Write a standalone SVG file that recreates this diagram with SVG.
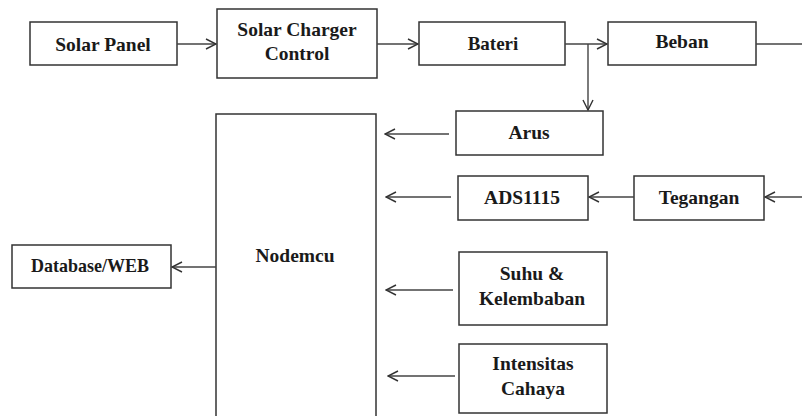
<svg xmlns="http://www.w3.org/2000/svg" width="802" height="416" viewBox="0 0 802 416">
<defs>
<marker id="arr" viewBox="0 0 12 12" refX="11" refY="6" markerWidth="12" markerHeight="12" markerUnits="userSpaceOnUse" orient="auto">
<path d="M1,1 L11,6 L1,11" fill="none" stroke="#333" stroke-width="1.4"/>
</marker>
<style>
.box{fill:#fff;stroke:#333;stroke-width:1.5}
.t{fill:#1a1a1a;text-anchor:middle}
.c{fill:none;stroke:#444;stroke-width:1.4}
</style>
</defs>
<rect width="802" height="416" fill="#fff"/>
<g id="nodes" font-family="Liberation Serif, Times New Roman, serif" font-weight="bold" font-size="19.5">
<g id="solar-panel"><rect class="box" x="30" y="22" width="147" height="43"/><text class="t" x="103" y="51" font-family="Liberation Serif, serif" font-weight="bold" font-size="19.5">Solar Panel</text></g>
<g id="scc"><rect class="box" x="217" y="9" width="160" height="69"/><text class="t" x="297" y="36" font-family="Liberation Serif, serif" font-weight="bold" font-size="19.5">Solar Charger</text><text class="t" x="297" y="60" font-family="Liberation Serif, serif" font-weight="bold" font-size="19.5">Control</text></g>
<g id="bateri"><rect class="box" x="419" y="22" width="146" height="43"/><text class="t" x="493" y="50" font-family="Liberation Serif, serif" font-weight="bold" font-size="19">Bateri</text></g>
<g id="beban"><rect class="box" x="608" y="22" width="148" height="43"/><text class="t" x="682" y="48" font-family="Liberation Serif, serif" font-weight="bold" font-size="19.5">Beban</text></g>
<g id="arus"><rect class="box" x="456" y="111" width="147" height="44"/><text class="t" x="529" y="139" font-family="Liberation Serif, serif" font-weight="bold" font-size="19.5">Arus</text></g>
<g id="nodemcu"><rect class="box" x="216" y="114" width="160" height="310"/><text class="t" x="295" y="262" font-family="Liberation Serif, serif" font-weight="bold" font-size="19.5">Nodemcu</text></g>
<g id="database"><rect class="box" x="12" y="245" width="159" height="43"/><text class="t" x="90" y="272" font-family="Liberation Serif, serif" font-weight="bold" font-size="19" textLength="118" lengthAdjust="spacingAndGlyphs">Database/WEB</text></g>
<g id="ads1115"><rect class="box" x="458" y="176" width="130" height="44"/><text class="t" x="522" y="204" font-family="Liberation Serif, serif" font-weight="bold" font-size="19.5">ADS1115</text></g>
<g id="tegangan"><rect class="box" x="634" y="176" width="130" height="44"/><text class="t" x="699" y="204" font-family="Liberation Serif, serif" font-weight="bold" font-size="19.5">Tegangan</text></g>
<g id="suhu"><rect class="box" x="459" y="252" width="148" height="73"/><text class="t" x="532" y="280" font-family="Liberation Serif, serif" font-weight="bold" font-size="19.5">Suhu &amp;</text><text class="t" x="532" y="305" font-family="Liberation Serif, serif" font-weight="bold" font-size="19.5">Kelembaban</text></g>
<g id="intensitas"><rect class="box" x="459" y="344" width="148" height="69"/><text class="t" x="533" y="370" font-family="Liberation Serif, serif" font-weight="bold" font-size="19.5">Intensitas</text><text class="t" x="533" y="395" font-family="Liberation Serif, serif" font-weight="bold" font-size="19.5">Cahaya</text></g>
</g>
<g id="connectors">
<line class="c" x1="177" y1="44" x2="216" y2="44" marker-end="url(#arr)"/>
<line class="c" x1="377" y1="44" x2="418" y2="44" marker-end="url(#arr)"/>
<line class="c" x1="565" y1="44" x2="607" y2="44" marker-end="url(#arr)"/>
<line class="c" x1="588" y1="44" x2="588" y2="110" marker-end="url(#arr)"/>
<line class="c" x1="756" y1="44" x2="802" y2="44"/>
<line class="c" x1="449" y1="134" x2="385" y2="134" marker-end="url(#arr)"/>
<line class="c" x1="216" y1="267" x2="172" y2="267" marker-end="url(#arr)"/>
<line class="c" x1="451" y1="197" x2="386" y2="197" marker-end="url(#arr)"/>
<line class="c" x1="634" y1="197" x2="589" y2="197" marker-end="url(#arr)"/>
<line class="c" x1="802" y1="197" x2="765" y2="197" marker-end="url(#arr)"/>
<line class="c" x1="453" y1="290" x2="386" y2="290" marker-end="url(#arr)"/>
<line class="c" x1="455" y1="376" x2="388" y2="376" marker-end="url(#arr)"/>
</g>
</svg>
